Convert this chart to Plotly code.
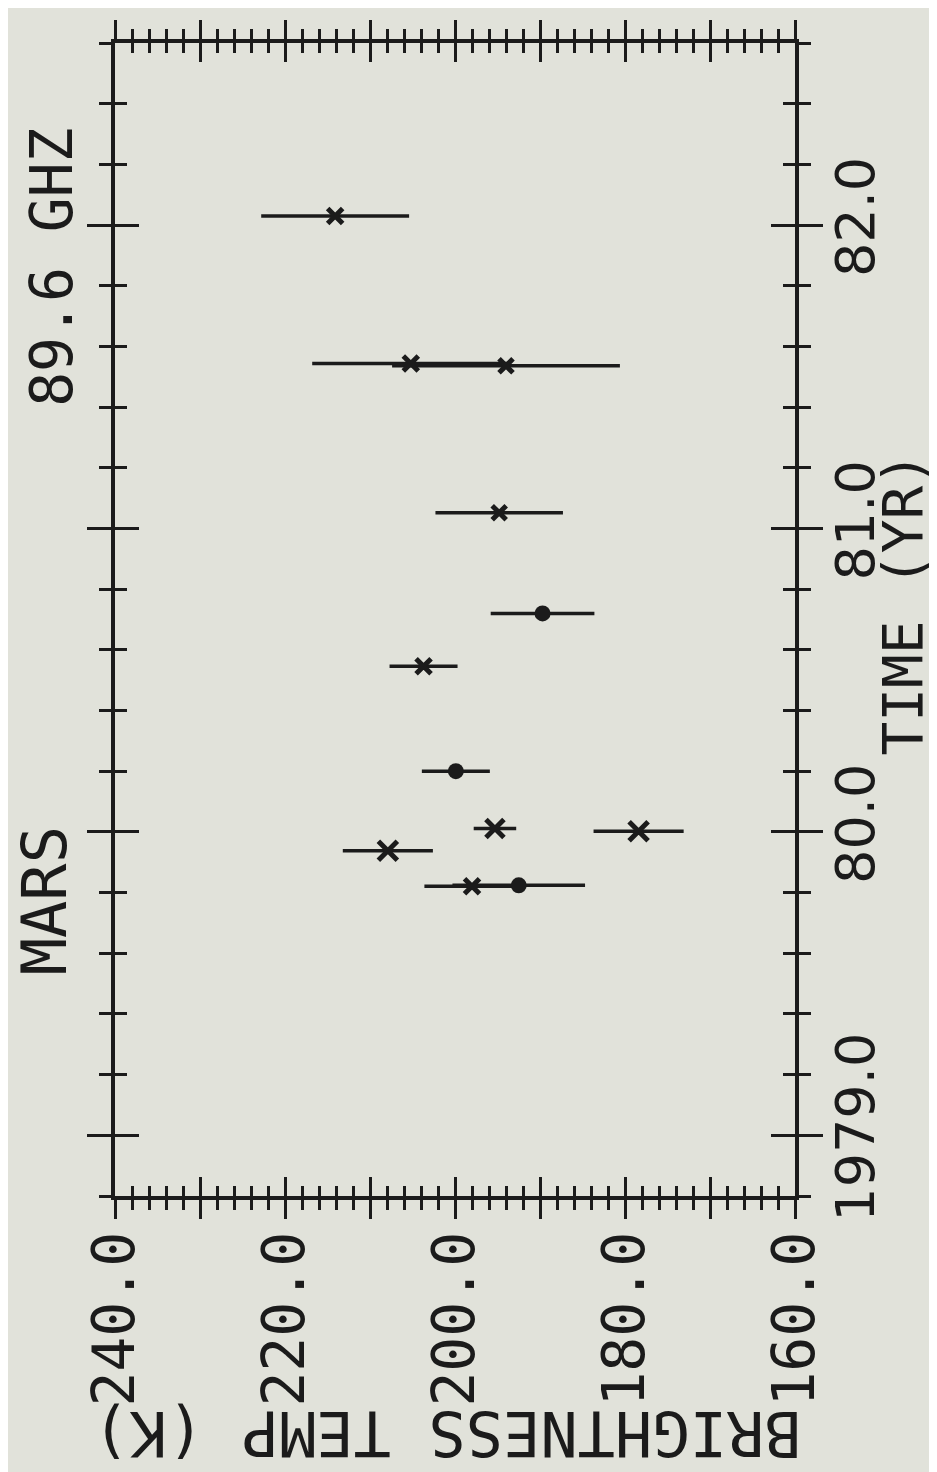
import plotly.graph_objects as go

# ---- data ----
# "x" (cross) symbols
cross_time = [1982.03, 1981.544, 1981.536, 1981.052, 1980.546, 1980.011, 1979.938, 1980.002, 1979.821]
cross_temp = [214.1, 205.2, 194.0, 194.8, 203.7, 195.3, 207.9, 178.4, 198.0]
cross_err = [8.7, 11.6, 13.4, 7.5, 4.0, 2.5, 5.3, 5.3, 5.6]
# filled-circle symbols
dot_time = [1980.72, 1980.20, 1979.824]
dot_temp = [189.7, 199.9, 192.5]
dot_err = [6.1, 4.0, 7.8]

temp_tick_vals = [160, 170, 180, 190, 200, 210, 220, 230, 240]
temp_tick_text = ["160.0", "", "180.0", "", "200.0", "", "220.0", "", "240.0"]
time_tick_vals = [1979, 1980, 1981, 1982]
time_tick_text = ["1979.0", "80.0", "81.0", "82.0"]

# ---- style ----
INK = "#1b1b1b"
BG = "#e1e2da"
cross_sizes = [15, 15, 14, 14, 15, 18, 19, 19, 15]
MONO = "DejaVu Sans Mono"
SANS = "DejaVu Sans"

fig = go.Figure()
fig.add_trace(go.Scatter(
    x=cross_temp, y=cross_time, mode="markers",
    marker=dict(symbol="x-thin", size=cross_sizes, color=INK, opacity=1,
                line=dict(width=5, color=INK)),
    error_x=dict(type="data", array=cross_err, visible=True, thickness=3.5, width=0, color=INK),
    showlegend=False))
fig.add_trace(go.Scatter(
    x=dot_temp, y=dot_time, mode="markers",
    marker=dict(symbol="circle", size=16, color=INK, opacity=1, line=dict(width=0)),
    error_x=dict(type="data", array=dot_err, visible=True, thickness=3.5, width=0, color=INK),
    showlegend=False))
# empty trace to create the overlay subplot used for the inward half of the ticks
fig.add_trace(go.Scatter(x=[], y=[], xaxis="x2", yaxis="y2", showlegend=False))

x_range = [240, 160]
y_range = [1978.8, 1982.6]

common_x = dict(range=x_range, showgrid=False, zeroline=False, tickvals=temp_tick_vals,
                ticklen=19, tickwidth=3, tickcolor=INK, mirror="allticks")
common_y = dict(range=y_range, showgrid=False, zeroline=False, tickvals=time_tick_vals,
                ticklen=24, tickwidth=3, tickcolor=INK, mirror="allticks")

fig.update_layout(
    width=937, height=1472,
    margin=dict(l=107, r=150, t=31, b=284),
    paper_bgcolor=BG, plot_bgcolor=BG,
    xaxis=dict(**common_x, ticks="outside", showline=True, linewidth=3.5, linecolor=INK,
               ticktext=temp_tick_text, tickangle=-90, ticklabelstandoff=-10,
               tickfont=dict(family=MONO, size=58, color=INK),
               minor=dict(tickmode="linear", tick0=160, dtick=2, ticks="outside",
                          ticklen=10, tickwidth=3, tickcolor=INK, showgrid=False)),
    yaxis=dict(**common_y, ticks="outside", side="right", showline=True, linewidth=3.5,
               linecolor=INK, ticktext=time_tick_text, tickangle=-90, ticklabelstandoff=-14,
               tickfont=dict(family=SANS, size=54, color=INK),
               minor=dict(tickmode="linear", tick0=1978.8, dtick=0.2, ticks="outside",
                          ticklen=12, tickwidth=3, tickcolor=INK, showgrid=False)),
    xaxis2=dict(**common_x, ticks="inside", overlaying="x", anchor="y2", showline=False,
                showticklabels=False,
                minor=dict(tickmode="linear", tick0=160, dtick=2, ticks="inside",
                           ticklen=10, tickwidth=3, tickcolor=INK, showgrid=False)),
    yaxis2=dict(**common_y, ticks="inside", overlaying="y", anchor="x2", side="right",
                showline=False, showticklabels=False,
                minor=dict(tickmode="linear", tick0=1978.8, dtick=0.2, ticks="inside",
                           ticklen=12, tickwidth=3, tickcolor=INK, showgrid=False)),
)

fig.add_annotation(text="BRIGHTNESS TEMP (K)", xref="paper", yref="paper", x=0.488, y=-0.2066,
                   xanchor="center", yanchor="middle", textangle=180, showarrow=False,
                   font=dict(family=MONO, size=62, color=INK))
fig.add_annotation(text="TIME (YR)", xref="paper", yref="paper", x=1.158, y=0.5134,
                   xanchor="center", yanchor="middle", textangle=-90, showarrow=False,
                   font=dict(family=MONO, size=56, color=INK))
fig.add_annotation(text="MARS", xref="paper", yref="paper", x=-0.104, y=0.2558,
                   xanchor="center", yanchor="middle", textangle=-90, showarrow=False,
                   font=dict(family=MONO, size=62, color=INK))
fig.add_annotation(text="89.6 GHZ", xref="paper", yref="paper", x=-0.0926, y=0.805,
                   xanchor="center", yanchor="middle", textangle=-90, showarrow=False,
                   font=dict(family=MONO, size=58, color=INK))

fig.write_html("out.html")
